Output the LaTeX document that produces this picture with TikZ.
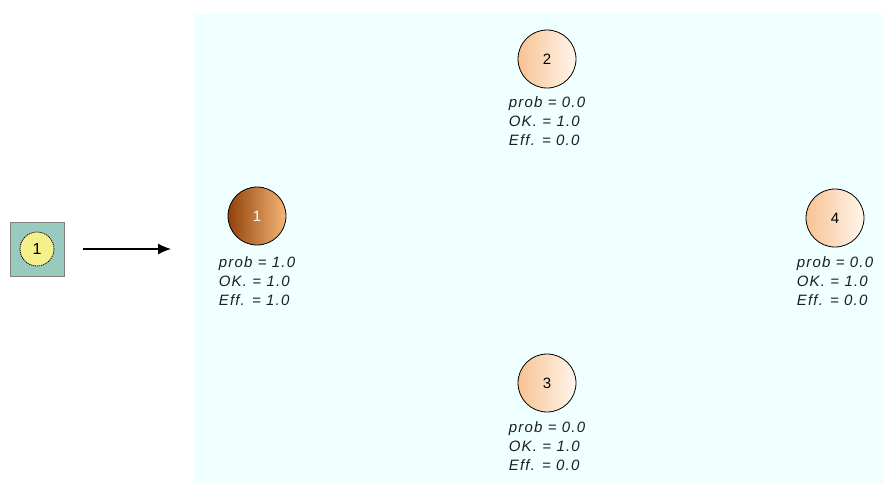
\documentclass[tikz,border=0pt]{standalone}
\usepackage{fontspec}
\setmainfont{Liberation Sans}
\newfontfamily\lblfont[LetterSpace=8]{Liberation Sans}
\usetikzlibrary{arrows.meta,shadings}
\definecolor{bgcyan}{RGB}{240,255,255}
\definecolor{darkL}{RGB}{146,66,10}
\definecolor{darkM}{RGB}{212,126,56}
\definecolor{darkR}{RGB}{246,182,118}
\definecolor{lightL}{RGB}{248,194,146}
\definecolor{lightR}{RGB}{255,246,236}
\definecolor{sqfill}{RGB}{152,202,192}
\definecolor{sqedge}{RGB}{128,128,128}
\definecolor{yel}{RGB}{246,240,140}
\definecolor{txt}{RGB}{30,30,30}
\tikzset{
  x=1pt, y=-1pt,
  state/.style={circle, draw=black, line width=0.8pt, minimum size=58pt, inner sep=0pt,
    font=\fontsize{15}{15}\selectfont},
  hot/.style={state, shading=axis, left color=darkL, middle color=darkM, right color=darkR, shading angle=90, text=white},
  cold/.style={state, shading=axis, left color=lightL, right color=lightR, shading angle=90},
  lbl/.style={anchor=north, align=left, inner sep=0pt, text=txt,
    font=\lblfont\itshape\fontsize{15}{19}\selectfont},
  srcbox/.style={draw=sqedge, line width=1pt, fill=sqfill, minimum size=54pt, inner sep=0pt},
  srccirc/.style={circle, draw=black, dashed, dash pattern=on 1.2pt off 0.8pt, line width=0.8pt,
    fill=yel, minimum size=34pt, inner sep=0pt, font=\fontsize{16}{16}\selectfont},
  arr/.style={-{Latex[length=13pt,width=11pt]}, line width=1.1pt}
}
\begin{document}
\begin{tikzpicture}
\useasboundingbox (0,0) rectangle (884,483);
\fill[bgcyan] (194,14) rectangle (884,483);

\node[srcbox] (box) at (37,249) {};
\node[srccirc] (s1) at (box.center) {1};
\coordinate (arrS) at (83,249);
\coordinate (arrE) at (171,249);
\draw[arr] (arrS) -- (arrE);

\node[hot] (n1) at (257,216) {1};
\node[cold] (n2) at (547,59) {2};
\node[cold] (n3) at (547,383) {3};
\node[cold] (n4) at (835,218) {4};

\node[lbl] (l1) at (257,256) {prob = 1.0\\OK. = 1.0\\Eff. = 1.0};
\node[lbl] (l2) at (547,96) {prob = 0.0\\OK. = 1.0\\Eff. = 0.0};
\node[lbl] (l3) at (547,421) {prob = 0.0\\OK. = 1.0\\Eff. = 0.0};
\node[lbl] (l4) at (835,256) {prob = 0.0\\OK. = 1.0\\Eff. = 0.0};
\end{tikzpicture}
\end{document}
